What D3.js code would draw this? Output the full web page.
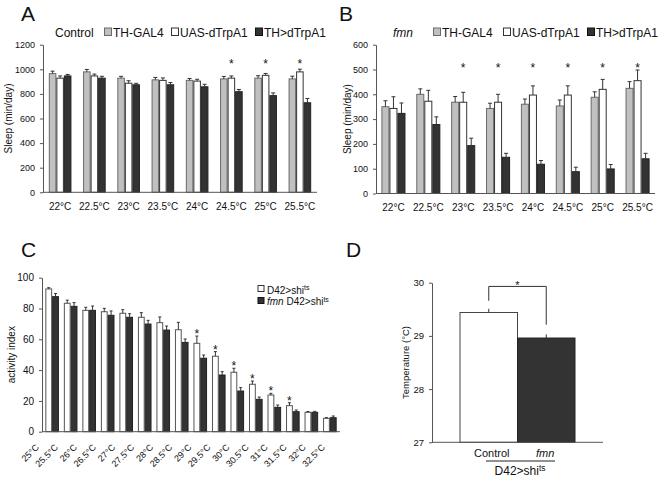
<!DOCTYPE html>
<html><head><meta charset="utf-8">
<script src="https://cdn.jsdelivr.net/npm/d3@7"></script>
<style>
body{margin:0;background:#fff;}
text{font-family:"Liberation Sans",Arial,sans-serif;fill:#111;}
</style></head><body>
<script>
// ---------- DATA ----------
const A_categories = ["22°C","22.5°C","23°C","23.5°C","24°C","24.5°C","25°C","25.5°C"];
const A_thgal4     = [965, 979, 928, 914, 910, 922, 928, 922];
const A_thgal4_err = [20, 20, 15, 20, 15, 20, 20, 22];
const A_uas        = [928, 946, 887, 910, 904, 928, 951, 979];
const A_uas_err    = [18, 15, 20, 20, 15, 18, 15, 22];
const A_th         = [946, 928, 874, 874, 858, 818, 786, 728];
const A_th_err     = [12, 15, 12, 18, 20, 18, 22, 35];
const A_stars      = ["24.5°C","25°C","25.5°C"];
const A_ticks      = [0,200,400,600,800,1000,1200];

const B_categories = ["22°C","22.5°C","23°C","23.5°C","24°C","24.5°C","25°C","25.5°C"];
const B_thgal4     = [350, 400, 368, 343, 360, 353, 388, 424];
const B_thgal4_err = [24, 22, 23, 21, 21, 24, 22, 27];
const B_uas        = [343, 372, 368, 368, 397, 397, 420, 455];
const B_uas_err    = [47, 44, 40, 32, 37, 37, 40, 43];
const B_th         = [323, 278, 193, 146, 118, 88, 99, 140];
const B_th_err     = [42, 31, 30, 16, 15, 18, 18, 22];
const B_stars      = ["23°C","23.5°C","24°C","24.5°C","25°C","25.5°C"];
const B_ticks      = [0,100,200,300,400,500,600];

const C_categories = ["25°C","25.5°C","26°C","26.5°C","27°C","27.5°C","28°C","28.5°C",
                      "29°C","29.5°C","30°C","30.5°C","31°C","31.5°C","32°C","32.5°C"];
const C_ctrl     = [92.7, 83.4, 78.8, 77.9, 76.9, 74.3, 70.8, 66.2, 57.4, 49.0, 38.6, 30.8, 23.8, 16.9, 12.6, 8.7];
const C_ctrl_err = [0.8, 2.0, 2.0, 2.2, 2.3, 3.0, 3.7, 4.8, 4.7, 3.0, 2.6, 2.1, 1.1, 1.9, 0.5, 0.4];
const C_fmn      = [87.7, 81.4, 78.8, 75.6, 74.3, 69.9, 66.0, 58.0, 47.7, 36.8, 26.4, 21.0, 15.8, 13.0, 12.6, 9.1];
const C_fmn_err  = [2.0, 2.4, 2.8, 2.8, 2.3, 2.4, 2.6, 2.2, 2.1, 2.2, 2.2, 1.5, 1.5, 1.1, 0.6, 1.1];
const C_stars    = ["29°C","29.5°C","30°C","30.5°C","31°C","31.5°C"];
const C_ticks    = [0,20,40,60,80,100];

const D_groups = ["Control","fmn"];
const D_values = [29.44, 28.96];
const D_err    = [0.07, 0.07];
const D_ticks  = [27,28,29,30];
const D_bracket = [29.66, 29.93, 29.21]; // left foot, top, right foot (°C)

// ---------- DRAW ----------
const COL = {gray:"#c0c0c0", grayS:"#6a6a6a", white:"#ffffff", whiteS:"#333", dark:"#333333", darkS:"#222", axis:"#555"};
const svg = d3.select("body").append("svg").attr("width",660).attr("height",481);
svg.append("rect").attr("width",660).attr("height",481).attr("fill","#fff");

function yAxis(g, scale, ticks, x, fs){
  const ax = g.append("g").attr("transform",`translate(${x},0)`)
    .call(d3.axisLeft(scale).tickValues(ticks).tickFormat(d3.format("d")).tickSize(3).tickSizeOuter(0).tickPadding(5));
  ax.select(".domain").attr("stroke",COL.axis);
  ax.selectAll(".tick line").attr("stroke",COL.axis);
  ax.selectAll(".tick text").attr("font-size",fs).attr("font-family","Liberation Sans,Arial,sans-serif").attr("fill","#111");
}
function errBars(g, data, cap){
  g.selectAll(null).data(data).enter().append("path")
    .attr("d",d=>`M${d.x},${d.y0}V${d.y1}M${d.x-cap/2},${d.y1}H${d.x+cap/2}`)
    .attr("stroke","#333").attr("stroke-width",1).attr("fill","none");
}
function sup(t, base, s, italicPrefix){
  if(italicPrefix){ t.append("tspan").attr("font-style","italic").text(italicPrefix+" "); }
  t.append("tspan").text(base);
  t.append("tspan").attr("font-size","70%").attr("dy","-0.45em").text(s);
}

// grouped 3-bar panel (A, B)
function panel3(cfg){
  const g = svg.append("g");
  const y = d3.scaleLinear().domain(cfg.domain).range(cfg.yr);
  const x = d3.scaleBand().domain(cfg.cats).range(cfg.xr).paddingInner(cfg.pi).paddingOuter(cfg.po);
  const sub = d3.scaleBand().domain(["a","b","c"]).range([0,x.bandwidth()]);
  const series = [
    {k:"a", v:cfg.s1, e:cfg.e1, fill:COL.gray, stroke:COL.grayS},
    {k:"b", v:cfg.s2, e:cfg.e2, fill:COL.white, stroke:COL.whiteS},
    {k:"c", v:cfg.s3, e:cfg.e3, fill:COL.dark, stroke:COL.darkS}];
  series.forEach(s=>{
    const rows = cfg.cats.map((c,i)=>({c, v:s.v[i], e:s.e[i]}));
    g.selectAll(null).data(rows).enter().append("rect")
      .attr("x",d=>x(d.c)+sub(s.k)+0.5).attr("width",sub.bandwidth()-1)
      .attr("y",d=>y(d.v)).attr("height",d=>y(cfg.domain[0])-y(d.v))
      .attr("fill",s.fill).attr("stroke",s.stroke).attr("stroke-width",1);
    errBars(g, rows.map(d=>({x:x(d.c)+sub(s.k)+sub.bandwidth()/2, y0:y(d.v), y1:y(d.v+d.e)})), 4);
  });
  yAxis(g, y, cfg.ticks, cfg.xr[0], 9);
  g.append("line").attr("x1",cfg.xr[0]).attr("x2",cfg.xr[1]).attr("y1",y(cfg.domain[0])).attr("y2",y(cfg.domain[0]))
    .attr("stroke",COL.axis);
  g.selectAll(null).data(cfg.cats).enter().append("text")
    .attr("x",d=>x(d)+x.bandwidth()/2).attr("y",cfg.labelY).attr("text-anchor","middle")
    .attr("font-size",10).text(d=>d);
  g.selectAll(null).data(cfg.stars).enter().append("text")
    .attr("x",d=>x(d)+sub("b")+sub.bandwidth()/2).attr("y",y(cfg.starV)+6).attr("text-anchor","middle")
    .attr("font-size",12).text("*");
  g.append("text").attr("transform",`translate(${cfg.ylabX},${(cfg.yr[0]+cfg.yr[1])/2}) rotate(-90)`)
    .attr("text-anchor","middle").attr("font-size",10).text("Sleep (min/day)");
  // legend
  const L = cfg.legend;
  const lt = g.append("text").attr("x",L.title[0]).attr("y",L.y).attr("font-size",12).text(L.titleText);
  if(L.italic) lt.attr("font-style","italic");
  const items = [{t:"TH-GAL4",f:COL.gray,s:COL.grayS},{t:"UAS-dTrpA1",f:COL.white,s:"#333"},{t:"TH>dTrpA1",f:COL.dark,s:"#111"}];
  items.forEach((it,i)=>{
    g.append("rect").attr("x",L.box[i]+0.5).attr("y",L.y-8.5).attr("width",7).attr("height",7.5)
      .attr("fill",it.f).attr("stroke",it.s);
    g.append("text").attr("x",L.box[i]+9).attr("y",L.y).attr("font-size",12).text(it.t);
  });
  g.append("text").attr("x",cfg.letter[0]).attr("y",cfg.letter[1]).attr("font-size",21).text(cfg.letterT);
}

panel3({cats:A_categories, s1:A_thgal4, e1:A_thgal4_err, s2:A_uas, e2:A_uas_err, s3:A_th, e3:A_th_err,
  domain:[0,1200], yr:[192.3,44.7], xr:[43,317], pi:0.34, po:0.17, ticks:A_ticks, labelY:210,
  stars:A_stars, starV:1062, ylabX:11.5,
  legend:{title:[55],titleText:"Control",italic:false,y:36.5,box:[104,171,255]},
  letter:[21,21], letterT:"A"});

panel3({cats:B_categories, s1:B_thgal4, e1:B_thgal4_err, s2:B_uas, e2:B_uas_err, s3:B_th, e3:B_th_err,
  domain:[0,600], yr:[193.5,44.7], xr:[376,655], pi:0.31, po:0.155, ticks:B_ticks, labelY:210.5,
  stars:B_stars, starV:514, ylabX:350.5,
  legend:{title:[393],titleText:"fmn",italic:true,y:36.5,box:[433,503,587]},
  letter:[339,21], letterT:"B"});

// ---------- Panel C ----------
(function(){
  const g = svg.append("g");
  const y = d3.scaleLinear().domain([0,100]).range([431.7,277.7]);
  const x = d3.scaleBand().domain(C_categories).range([42,340]).paddingInner(0.265).paddingOuter(0.18);
  const sub = d3.scaleBand().domain(["ctrl","fmn"]).range([0,x.bandwidth()]);
  const series = [{k:"ctrl",v:C_ctrl,e:C_ctrl_err,fill:COL.white,stroke:"#555"},
                  {k:"fmn",v:C_fmn,e:C_fmn_err,fill:COL.dark,stroke:COL.darkS}];
  series.forEach(s=>{
    const rows = C_categories.map((c,i)=>({c,v:s.v[i],e:s.e[i]}));
    g.selectAll(null).data(rows).enter().append("rect")
      .attr("x",d=>x(d.c)+sub(s.k)+0.5).attr("width",sub.bandwidth()-1)
      .attr("y",d=>y(d.v)).attr("height",d=>y(0)-y(d.v))
      .attr("fill",s.fill).attr("stroke",s.stroke);
    errBars(g, rows.map(d=>({x:x(d.c)+sub(s.k)+sub.bandwidth()/2, y0:y(d.v), y1:y(d.v+d.e)})), 3);
  });
  const ctrlIdx = c=>C_categories.indexOf(c);
  g.selectAll(null).data(C_stars).enter().append("text")
    .attr("x",d=>x(d)+sub("ctrl")+sub.bandwidth()/2)
    .attr("y",d=>y(C_ctrl[ctrlIdx(d)]+C_ctrl_err[ctrlIdx(d)])+2)
    .attr("text-anchor","middle").attr("font-size",12).text("*");
  yAxis(g, y, C_ticks, 42, 10);
  g.append("line").attr("x1",42).attr("x2",340).attr("y1",y(0)).attr("y2",y(0)).attr("stroke",COL.axis);
  const lx = d3.scalePoint().domain(C_categories).range([x.range()[0]-2.5, x.range()[1]-14.5]);
  g.selectAll(null).data(C_categories).enter().append("text")
    .attr("transform",d=>`translate(${lx(d)},448) rotate(-45)`)
    .attr("text-anchor","end").attr("font-size",9).text(d=>d);
  g.append("text").attr("transform",`translate(15,${(y(0)+y(100))/2}) rotate(-90)`)
    .attr("text-anchor","middle").attr("font-size",10).text("activity index");
  // legend
  g.append("rect").attr("x",258).attr("y",285.5).attr("width",6).attr("height",6).attr("fill","#fff").attr("stroke","#333");
  sup(g.append("text").attr("x",267).attr("y",293.5).attr("font-size",10), "D42>shi", "ts");
  g.append("rect").attr("x",258).attr("y",297.5).attr("width",6).attr("height",6).attr("fill",COL.dark).attr("stroke","#111");
  sup(g.append("text").attr("x",267).attr("y",305).attr("font-size",10), "D42>shi", "ts", "fmn");
  g.append("text").attr("x",21).attr("y",257).attr("font-size",21).text("C");
})();

// ---------- Panel D ----------
(function(){
  const g = svg.append("g");
  const y = d3.scaleLinear().domain([27,30]).range([442.3,282.7]);
  const x = d3.scaleBand().domain(D_groups).range([432,603]).paddingInner(0).paddingOuter(0.487);
  const rows = D_groups.map((c,i)=>({c,v:D_values[i],e:D_err[i]}));
  g.selectAll(null).data(rows).enter().append("rect")
    .attr("x",d=>x(d.c)).attr("width",x.bandwidth())
    .attr("y",d=>y(d.v)).attr("height",d=>y(27)-y(d.v))
    .attr("fill",(d,i)=>i===0?"#fff":COL.dark).attr("stroke",(d,i)=>i===0?"#444":"#222");
  errBars(g, rows.map(d=>({x:x(d.c)+x.bandwidth()/2, y0:y(d.v), y1:y(d.v+d.e)})), 0);
  yAxis(g, y, D_ticks, 432, 9.5);
  g.append("line").attr("x1",432).attr("x2",603).attr("y1",y(27)).attr("y2",y(27)).attr("stroke",COL.axis);
  const cx0 = x("Control")+x.bandwidth()/2, cx1 = x("fmn")+x.bandwidth()/2;
  g.append("path").attr("d",`M${cx0},${y(D_bracket[0])}V${y(D_bracket[1])}H${cx1}V${y(D_bracket[2])}`)
    .attr("stroke","#333").attr("fill","none");
  g.append("text").attr("x",(cx0+cx1)/2).attr("y",y(D_bracket[1])+2.5).attr("text-anchor","middle").attr("font-size",11).text("*");
  g.append("text").attr("x",cx0+3).attr("y",457).attr("text-anchor","middle").attr("font-size",11).text("Control");
  g.append("text").attr("x",cx1-1).attr("y",457).attr("text-anchor","middle").attr("font-size",11).attr("font-style","italic").text("fmn");
  g.append("line").attr("x1",486).attr("x2",555).attr("y1",461).attr("y2",461).attr("stroke","#222");
  sup(g.append("text").attr("x",520).attr("y",475).attr("text-anchor","middle").attr("font-size",12), "D42>shi", "ts");
  g.append("text").attr("transform",`translate(409,${(y(27)+y(30))/2}) rotate(-90)`)
    .attr("text-anchor","middle").attr("font-size",9.5).text("Temperature (°C)");
  g.append("text").attr("x",346).attr("y",257).attr("font-size",21).text("D");
})();
</script>
</body></html>
